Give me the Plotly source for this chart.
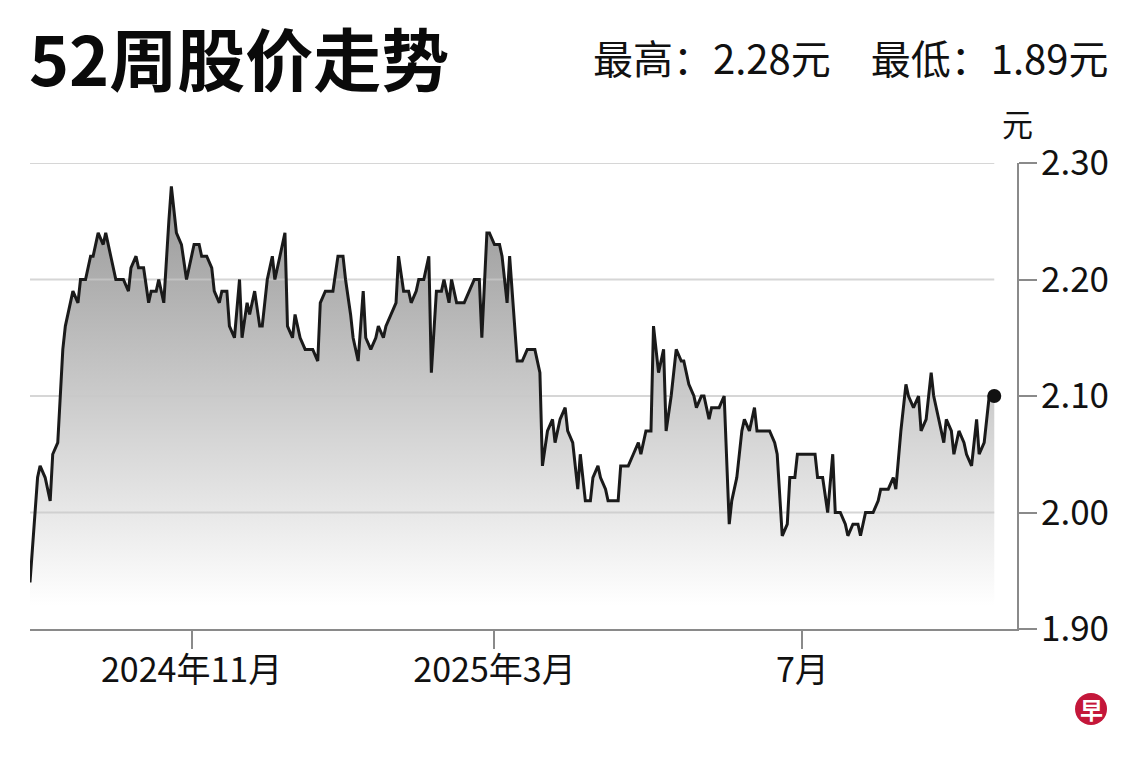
import plotly.graph_objects as go

# ---------------- data ----------------
dates = [
    "2024-08-29", "2024-08-30", "2024-08-31", "2024-09-01", "2024-09-02", "2024-09-04", "2024-09-06", "2024-09-07",
    "2024-09-09", "2024-09-10", "2024-09-11", "2024-09-12", "2024-09-14", "2024-09-15", "2024-09-17", "2024-09-18",
    "2024-09-20", "2024-09-22", "2024-09-23", "2024-09-25", "2024-09-27", "2024-09-28", "2024-09-30", "2024-10-02",
    "2024-10-04", "2024-10-05", "2024-10-07", "2024-10-08", "2024-10-10", "2024-10-11", "2024-10-13", "2024-10-15",
    "2024-10-16", "2024-10-18", "2024-10-19", "2024-10-21", "2024-10-23", "2024-10-24", "2024-10-26", "2024-10-28",
    "2024-10-30", "2024-10-31", "2024-11-02", "2024-11-04", "2024-11-05", "2024-11-07", "2024-11-09", "2024-11-10",
    "2024-11-12", "2024-11-13", "2024-11-15", "2024-11-16", "2024-11-18", "2024-11-20", "2024-11-21", "2024-11-23",
    "2024-11-24", "2024-11-26", "2024-11-28", "2024-11-29", "2024-12-01", "2024-12-03", "2024-12-04", "2024-12-06",
    "2024-12-08", "2024-12-09", "2024-12-11", "2024-12-12", "2024-12-14", "2024-12-16", "2024-12-19", "2024-12-21",
    "2024-12-22", "2024-12-24", "2024-12-27", "2024-12-29", "2024-12-31", "2025-01-01", "2025-01-03", "2025-01-04",
    "2025-01-06", "2025-01-08", "2025-01-09", "2025-01-11", "2025-01-13", "2025-01-14", "2025-01-16", "2025-01-17",
    "2025-01-19", "2025-01-21", "2025-01-22", "2025-01-24", "2025-01-26", "2025-01-27", "2025-01-29", "2025-01-30",
    "2025-02-01", "2025-02-03", "2025-02-04", "2025-02-06", "2025-02-08", "2025-02-09", "2025-02-11", "2025-02-12",
    "2025-02-14", "2025-02-17", "2025-02-19", "2025-02-21", "2025-02-23", "2025-02-24", "2025-02-26", "2025-02-27",
    "2025-03-01", "2025-03-03", "2025-03-04", "2025-03-06", "2025-03-07", "2025-03-09", "2025-03-10", "2025-03-12",
    "2025-03-14", "2025-03-17", "2025-03-19", "2025-03-20", "2025-03-22", "2025-03-24", "2025-03-25", "2025-03-27",
    "2025-03-29", "2025-03-30", "2025-04-01", "2025-04-03", "2025-04-04", "2025-04-06", "2025-04-08", "2025-04-09",
    "2025-04-11", "2025-04-12", "2025-04-14", "2025-04-15", "2025-04-19", "2025-04-20", "2025-04-23", "2025-04-25",
    "2025-04-27", "2025-04-28", "2025-04-30", "2025-05-02", "2025-05-03", "2025-05-05", "2025-05-07", "2025-05-08",
    "2025-05-10", "2025-05-12", "2025-05-14", "2025-05-15", "2025-05-17", "2025-05-19", "2025-05-20", "2025-05-22",
    "2025-05-23", "2025-05-25", "2025-05-26", "2025-05-29", "2025-05-31", "2025-06-02", "2025-06-03", "2025-06-05",
    "2025-06-07", "2025-06-08", "2025-06-10", "2025-06-12", "2025-06-13", "2025-06-18", "2025-06-20", "2025-06-21",
    "2025-06-23", "2025-06-25", "2025-06-26", "2025-06-28", "2025-06-29", "2025-07-06", "2025-07-07", "2025-07-09",
    "2025-07-11", "2025-07-13", "2025-07-14", "2025-07-16", "2025-07-18", "2025-07-19", "2025-07-21", "2025-07-23",
    "2025-07-24", "2025-07-26", "2025-07-29", "2025-07-31", "2025-08-01", "2025-08-04", "2025-08-06", "2025-08-07",
    "2025-08-09", "2025-08-11", "2025-08-12", "2025-08-14", "2025-08-16", "2025-08-17", "2025-08-19", "2025-08-21",
    "2025-08-22", "2025-08-24", "2025-08-26", "2025-08-27", "2025-08-29", "2025-08-30", "2025-09-01", "2025-09-03",
    "2025-09-04", "2025-09-06", "2025-09-08", "2025-09-09", "2025-09-11", "2025-09-13", "2025-09-15",
]

prices = [
    1.94, 1.97, 2.00, 2.03, 2.04, 2.03, 2.01, 2.05,
    2.06, 2.10, 2.14, 2.16, 2.18, 2.19, 2.18, 2.20,
    2.20, 2.22, 2.22, 2.24, 2.23, 2.24, 2.22, 2.20,
    2.20, 2.20, 2.19, 2.21, 2.22, 2.21, 2.21, 2.18,
    2.19, 2.19, 2.20, 2.18, 2.25, 2.28, 2.24, 2.23,
    2.20, 2.21, 2.23, 2.23, 2.22, 2.22, 2.21, 2.19,
    2.18, 2.19, 2.19, 2.16, 2.15, 2.20, 2.15, 2.18,
    2.17, 2.19, 2.16, 2.16, 2.20, 2.22, 2.20, 2.22,
    2.24, 2.16, 2.15, 2.17, 2.15, 2.14, 2.14, 2.13,
    2.18, 2.19, 2.19, 2.22, 2.22, 2.20, 2.17, 2.15,
    2.13, 2.19, 2.15, 2.14, 2.15, 2.16, 2.15, 2.16,
    2.17, 2.18, 2.22, 2.19, 2.19, 2.18, 2.19, 2.20,
    2.20, 2.22, 2.12, 2.19, 2.19, 2.20, 2.18, 2.20,
    2.18, 2.18, 2.19, 2.20, 2.20, 2.15, 2.24, 2.24,
    2.23, 2.23, 2.22, 2.18, 2.22, 2.16, 2.13, 2.13,
    2.14, 2.14, 2.12, 2.04, 2.07, 2.08, 2.06, 2.08,
    2.09, 2.07, 2.06, 2.02, 2.05, 2.01, 2.01, 2.03,
    2.04, 2.03, 2.02, 2.01, 2.01, 2.04, 2.04, 2.05,
    2.06, 2.05, 2.07, 2.07, 2.16, 2.12, 2.14, 2.07,
    2.10, 2.14, 2.13, 2.13, 2.11, 2.10, 2.09, 2.10,
    2.10, 2.08, 2.09, 2.09, 2.10, 1.99, 2.01, 2.03,
    2.07, 2.08, 2.07, 2.09, 2.07, 2.07, 2.06, 2.05,
    1.98, 1.99, 2.03, 2.03, 2.05, 2.05, 2.03, 2.03,
    2.00, 2.05, 2.00, 2.00, 1.99, 1.98, 1.99, 1.99,
    1.98, 2.00, 2.00, 2.01, 2.02, 2.02, 2.03, 2.02,
    2.07, 2.11, 2.10, 2.09, 2.10, 2.07, 2.08, 2.12,
    2.10, 2.08, 2.06, 2.08, 2.07, 2.05, 2.07, 2.06,
    2.05, 2.04, 2.08, 2.05, 2.06, 2.10, 2.10,
]

y_ticks = [1.90, 2.00, 2.10, 2.20, 2.30]
y_tick_labels = ["1.90", "2.00", "2.10", "2.20", "2.30"]
grid_values = [2.00, 2.10, 2.20, 2.30]
x_ticks = ["2024-11-01", "2025-03-01", "2025-07-01"]
x_tick_labels = ["2024年11月", "2025年3月", "7月"]
x_range = ["2024-08-29", "2025-09-24"]
y_range = [1.90, 2.30]

title_text = "52周股价走势"
summary_text = "最高：2.28元\u3000最低：1.89元"
unit_text = "元"
logo_text = "早"

FONT = "Noto Sans CJK SC, Noto Sans, sans-serif"

fig = go.Figure()

# gradient area
fig.add_trace(go.Scatter(
    x=dates, y=prices, mode="lines", line=dict(width=0, color="rgba(0,0,0,0)"),
    fill="tozeroy",
    fillgradient=dict(type="vertical",
                      colorscale=[[0, "rgba(255,255,255,1)"], [1, "rgb(148,148,148)"]],
                      start=1.92, stop=2.29),
    hoverinfo="skip", showlegend=False,
))

# gridlines spanning the data range
for g in grid_values:
    fig.add_trace(go.Scatter(
        x=[dates[0], dates[-1]], y=[g, g], mode="lines",
        line=dict(color="rgba(200,200,200,0.75)", width=2),
        hoverinfo="skip", showlegend=False,
    ))

# price line
fig.add_trace(go.Scatter(
    x=dates, y=prices, mode="lines",
    line=dict(color="#1a1a1a", width=3),
    showlegend=False,
))

# end dot
fig.add_trace(go.Scatter(
    x=[dates[-1]], y=[prices[-1]], mode="markers",
    marker=dict(color="#111111", size=14),
    showlegend=False,
))

fig.update_layout(
    width=1132, height=752,
    margin=dict(l=22, r=123, t=155, b=131),
    paper_bgcolor="white", plot_bgcolor="white",
    font=dict(family=FONT, color="#111111"),
    showlegend=False,
    xaxis=dict(
        type="date", range=x_range,
        tickvals=x_ticks, ticktext=x_tick_labels,
        showgrid=False, zeroline=False,
        showline=True, linecolor="#8a8a8a", linewidth=2,
        ticks="outside", ticklen=18, tickcolor="#8a8a8a", tickwidth=1.5,
        ticklabelstandoff=-8,
        tickfont=dict(size=34, family=FONT, color="#111111"),
    ),
    yaxis=dict(
        range=y_range, side="right",
        tickvals=y_ticks, ticktext=y_tick_labels,
        showgrid=False, zeroline=False,
        showline=True, linecolor="#8a8a8a", linewidth=2,
        ticks="outside", ticklen=18, tickcolor="#8a8a8a", tickwidth=1.5,
        ticklabelstandoff=-3,
        tickfont=dict(size=35, family=FONT, color="#111111"),
    ),
    annotations=[
        dict(text="<b>" + title_text + "</b>", xref="paper", yref="paper",
             x=-0.003, y=1.2275, xanchor="left", yanchor="middle", showarrow=False,
             font=dict(size=68, family=FONT, color="#0a0a0a")),
        dict(text=summary_text, xref="paper", yref="paper",
             x=1.0942, y=1.2275, xanchor="right", yanchor="middle", showarrow=False,
             font=dict(size=40, family=FONT, color="#111111")),
        dict(text=unit_text, xref="paper", yref="paper",
             x=1.001, y=1.086, xanchor="center", yanchor="middle", showarrow=False,
             font=dict(size=31, family=FONT, color="#111111")),
        dict(text="<b>" + logo_text + "</b>", xref="paper", yref="paper",
             x=1.075, y=-0.1717, xanchor="center", yanchor="middle", showarrow=False,
             font=dict(size=23, family=FONT, color="white")),
    ],
    shapes=[
        dict(type="circle", xref="paper", yref="paper",
             xsizemode="pixel", ysizemode="pixel",
             xanchor=1.075, yanchor=-0.1717,
             x0=-16, x1=16, y0=-16, y1=16,
             fillcolor="#c4173a", line=dict(width=0), layer="above"),
    ],
)

fig.write_html("out.html")
